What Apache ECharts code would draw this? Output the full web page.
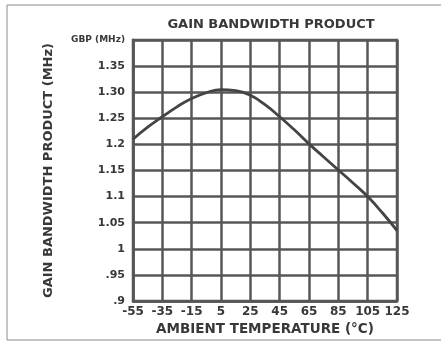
<!DOCTYPE html>
<html>
<head>
<meta charset="utf-8">
<script src="https://cdn.jsdelivr.net/npm/echarts@6/dist/echarts.min.js"></script>
<style>
  html, body { margin: 0; padding: 0; background: #fff; }
  #chart { width: 441px; height: 351px; }
</style>
</head>
<body>
<div id="chart"></div>
<script>
// Ambient temperature (°C), sampled every 10 degrees
const temperatures = ['-55', '-45', '-35', '-25', '-15', '-5', '5', '15', '25', '35',
                      '45', '55', '65', '75', '85', '95', '105', '115', '125'];
// Gain bandwidth product (MHz) at each temperature
const gbpValues = [1.21, 1.233, 1.253, 1.272, 1.288, 1.299, 1.305, 1.303, 1.294, 1.276,
                   1.253, 1.228, 1.201, 1.176, 1.151, 1.126, 1.10, 1.069, 1.035];
// Y tick labels from bottom to top
const yTickLabels = ['.9', '.95', '1', '1.05', '1.1', '1.15', '1.2', '1.25', '1.30', '1.35', '{u|GBP (MHz)}'];

const ink = '#383838';
const gridInk = '#575757';
const font = '"DejaVu Sans", "Liberation Sans", Arial, sans-serif';

const chart = echarts.init(document.getElementById('chart'), null, { renderer: 'canvas' });

chart.setOption({
  animation: false,
  backgroundColor: '#ffffff',
  title: {
    text: 'GAIN BANDWIDTH PRODUCT',
    left: 266,
    top: 13,
    textAlign: 'center',
    textStyle: { fontFamily: font, fontWeight: 'bold', fontSize: 13, color: ink }
  },
  grid: { left: 133, right: 44, top: 40, bottom: 50 },
  xAxis: {
    type: 'category',
    data: temperatures,
    boundaryGap: false,
    name: 'AMBIENT TEMPERATURE (°C)',
    nameLocation: 'middle',
    nameGap: 21,
    nameTextStyle: { fontFamily: font, fontWeight: 'bold', fontSize: 13.5, color: ink },
    axisLine: { show: true, lineStyle: { color: gridInk, width: 2.5 } },
    axisTick: { show: false },
    axisLabel: {
      interval: 1,
      margin: 5,
      fontFamily: font, fontWeight: 'bold', fontSize: 12, color: ink
    },
    splitLine: { show: true, interval: 1, lineStyle: { color: gridInk, width: 2.5 } }
  },
  yAxis: {
    type: 'value',
    min: 0.9,
    max: 1.4,
    interval: 0.05,
    name: 'GAIN BANDWIDTH PRODUCT (MHz)',
    nameLocation: 'middle',
    nameRotate: 90,
    nameGap: 78,
    nameTextStyle: { fontFamily: font, fontWeight: 'bold', fontSize: 13, color: ink },
    axisLine: { show: true, lineStyle: { color: gridInk, width: 2.5 } },
    axisTick: { show: false },
    axisLabel: {
      margin: 8,
      fontFamily: font, fontWeight: 'bold', fontSize: 11, color: ink,
      formatter: (v) => yTickLabels[Math.round((v - 0.9) / 0.05)] || '',
      rich: { u: { fontFamily: font, fontWeight: 'bold', fontSize: 9, color: ink } }
    },
    splitLine: { show: true, lineStyle: { color: gridInk, width: 2.5 } }
  },
  graphic: [
    // Outer frame (open on the right)
    {
      type: 'polyline',
      shape: { points: [[441, 5], [7, 5], [7, 340], [441, 340]] },
      style: { stroke: '#8a8a8a', lineWidth: 1, fill: null },
      silent: true
    },
    // Plot border
    {
      type: 'rect',
      shape: { x: 133, y: 40, width: 264, height: 261 },
      style: { stroke: gridInk, lineWidth: 2.5, fill: null },
      silent: true
    }
  ],
  series: [
    {
      type: 'line',
      data: gbpValues,
      smooth: 0.5,
      symbol: 'none',
      lineStyle: { color: '#444444', width: 2.8 }
    }
  ]
});
</script>
</body>
</html>
